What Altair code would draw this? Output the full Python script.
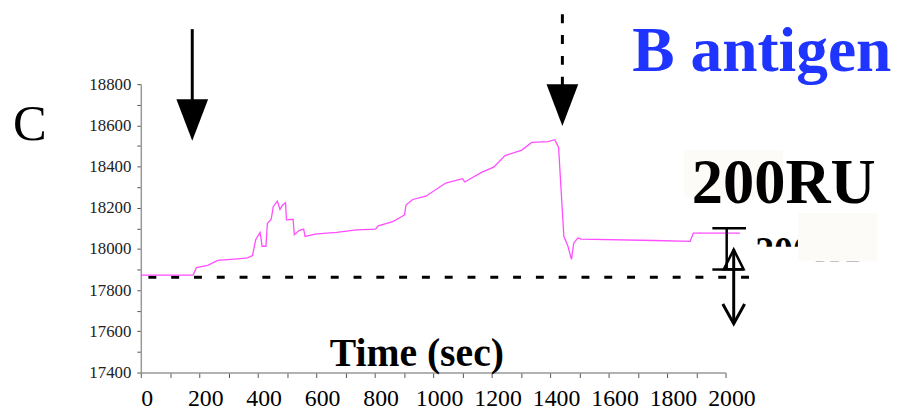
import altair as alt
import pandas as pd

# ---- sensorgram trace (time in s, response in RU) ----
time_s = [0, 179, 190, 229, 263, 331, 365, 382, 393, 408, 415, 428, 433, 446, 453, 467,
          476, 485, 495, 498, 521, 525, 541, 557, 562, 597, 636, 670, 738, 803, 812, 862,
          902, 907, 930, 975, 1043, 1100, 1108, 1167, 1207, 1246, 1303, 1337, 1393, 1416,
          1429, 1439, 1447, 1461, 1473, 1481, 1495, 1506, 1755, 1879, 1890, 2049]
signal_ru = [17873, 17873, 17909, 17920, 17944, 17952, 17957, 17968, 18045, 18080, 18013,
             18013, 18125, 18144, 18205, 18232, 18192, 18213, 18224, 18141, 18144, 18069,
             18089, 18096, 18061, 18072, 18077, 18080, 18093, 18096, 18112, 18133, 18165,
             18213, 18240, 18256, 18320, 18341, 18325, 18373, 18397, 18453, 18480, 18517,
             18521, 18530, 18493, 18253, 18061, 18013, 17949, 18029, 18053, 18048, 18041,
             18037, 18077, 18077]

# ---- axis ticks ----
x_ticks = list(range(0, 2001, 100))
y_ticks = list(range(17400, 18801, 100))

# ---- baseline (dashed) ----
baseline_ru = [17863]
baseline_t = [26]
baseline_t2 = [2094]

# ---- injection arrows (start / end of injection) ----
arrow_t = [176, 1442]
arrow_top = [19067, 19139]
arrow_bottom = [18717, 18789]
arrow_head = [18626, 18698]
arrow_kind = ["solid", "dashed"]

# ---- 200 RU scale bar ----
bar_t = [2004]
bar_low = [17900]
bar_high = [18100]
cap_t = [1955, 1955]
cap_t2 = [2070, 2062]
cap_ru = [18100, 17900]

# ---- double headed arrow ----
darrow_t = [2028]
darrow_top = [17997]
darrow_bottom = [17637]
darrow_headtop = [17949]

SERIF = "'Liberation Serif', 'Times New Roman', Times, serif"

trace = pd.DataFrame({"t": time_s, "ru": signal_ru})
base_df = pd.DataFrame({"t": baseline_t, "t2": baseline_t2, "ru": baseline_ru})
arrows = pd.DataFrame({"t": arrow_t, "top": arrow_top, "bottom": arrow_bottom,
                       "head": arrow_head, "kind": arrow_kind})
bar_df = pd.DataFrame({"t": bar_t, "lo": bar_low, "hi": bar_high})
caps_df = pd.DataFrame({"t": cap_t, "t2": cap_t2, "ru": cap_ru})
darrow = pd.DataFrame({"t": darrow_t, "top": darrow_top, "bottom": darrow_bottom,
                       "headtop": darrow_headtop})

xs = alt.Scale(domain=[0, 2000], nice=False, zero=False)
ys = alt.Scale(domain=[17400, 18800], nice=False, zero=False)

x_axis = alt.Axis(values=x_ticks, format="d", title=None,
                  labelExpr="datum.value % 200 === 0 ? datum.label : ''",
                  labelFont=SERIF, labelFontSize=24, labelColor="black",
                  labelBaseline="alphabetic",
                  labelPadding=28, labelOffset=6, labelOverlap=False, labelFlush=False,
                  tickSize=5, tickColor="#555", tickWidth=1,
                  domainColor="#999", domainWidth=1.5, grid=False)
y_axis = alt.Axis(values=y_ticks, format="d", title=None,
                  labelExpr="datum.value % 200 === 0 ? datum.label : ''",
                  labelFont=SERIF, labelFontSize=17, labelColor="#222",
                  labelPadding=6, labelOverlap=False, labelFlush=False,
                  tickSize=4, tickColor="#555", tickWidth=1,
                  domainColor="#999", domainWidth=1.5, grid=False)

X = lambda f: alt.X(f, type="quantitative", scale=xs, axis=x_axis)
Y = lambda f: alt.Y(f, type="quantitative", scale=ys, axis=y_axis)

dashed = alt.Chart(base_df).mark_rule(color="black", strokeWidth=3, strokeDash=[8, 15]).encode(
    x=X("t"), x2="t2", y=Y("ru"))

line = alt.Chart(trace).mark_line(color="#ff4dff", strokeWidth=1.3).encode(
    x=X("t"), y=Y("ru"), order="t:Q")

shafts_solid = alt.Chart(arrows[arrows.kind == "solid"]).mark_rule(
    color="black", strokeWidth=3).encode(x=X("t"), y=Y("top"), y2="bottom")
shafts_dashed = alt.Chart(arrows[arrows.kind == "dashed"]).mark_rule(
    color="black", strokeWidth=3, strokeDash=[9, 12]).encode(x=X("t"), y=Y("top"), y2="bottom")
heads = alt.Chart(arrows).mark_point(
    shape="M-1,-1.3125L1,-1.3125L0,1.3125Z", size=1024, filled=True,
    color="black", opacity=1, strokeWidth=0).encode(x=X("t"), y=Y("head"))

bar = alt.Chart(bar_df).mark_rule(color="black", strokeWidth=2.5).encode(
    x=X("t"), y=Y("lo"), y2="hi")
caps = alt.Chart(caps_df).mark_rule(color="black", strokeWidth=2.5).encode(
    x=X("t"), x2="t2", y=Y("ru"))

dshaft = alt.Chart(darrow).mark_rule(color="black", strokeWidth=3).encode(
    x=X("t"), y=Y("top"), y2="bottom")
dhead_top = alt.Chart(darrow).mark_point(
    shape="M0,-1L1,1L-1,1Z", size=400, filled=False, color="black",
    opacity=1, strokeWidth=2.5).encode(x=X("t"), y=Y("headtop"))
dhead_bot = alt.Chart(darrow).mark_point(
    shape="M-1,-1.8L0,0L1,-1.8", size=484, filled=False, color="black",
    opacity=1, strokeWidth=3).encode(x=X("t"), y=Y("bottom"))

def txt(s, x, y, size, weight="normal", color="black", align="left"):
    return alt.Chart(base_df).mark_text(
        text=s, font=SERIF, fontSize=size, fontWeight=weight,
        color=color, align=align, baseline="alphabetic").encode(
        x=alt.value(x), y=alt.value(y))

def box(x, x2, y, y2, color):
    return alt.Chart(base_df).mark_rect(color=color, opacity=1).encode(
        x=alt.value(x), x2=alt.value(x2), y=alt.value(y), y2=alt.value(y2))

label_c = txt("C", -112, 56.5, 51, align="center")
label_b = txt("B antigen", 496, -13, 64, weight="bold", color="#1f35ff")
bg1 = box(548, 648, 67, 114, "#fcfbf7")
label_ru = txt("200RU", 556, 120, 63, weight="bold")
hidden_ru = txt("200RU", 620, 180, 38, weight="bold")
white_box = box(614, 681, 164, 196, "white")
bg2 = box(663, 743, 130, 179, "#fcfbf8")
white_box2 = box(663, 760, 179, 196, "white")
label_time = txt("Time (sec)", 278.5, 284, 40, weight="bold", align="center")

chart = alt.layer(
    dashed, line, shafts_solid, shafts_dashed, heads, bar, caps,
    dshaft, dhead_top, dhead_bot,
    label_c, label_b, bg1, label_ru, hidden_ru, white_box, bg2, white_box2, label_time
).properties(
    width=590, height=291,
    autosize=alt.AutoSizeParams(type="none"),
    padding={"left": 134, "top": 75, "right": 170, "bottom": 37},
    background="white"
).configure_view(strokeWidth=0)

chart.save("out.html", embed_options={"renderer": "svg", "actions": False})
